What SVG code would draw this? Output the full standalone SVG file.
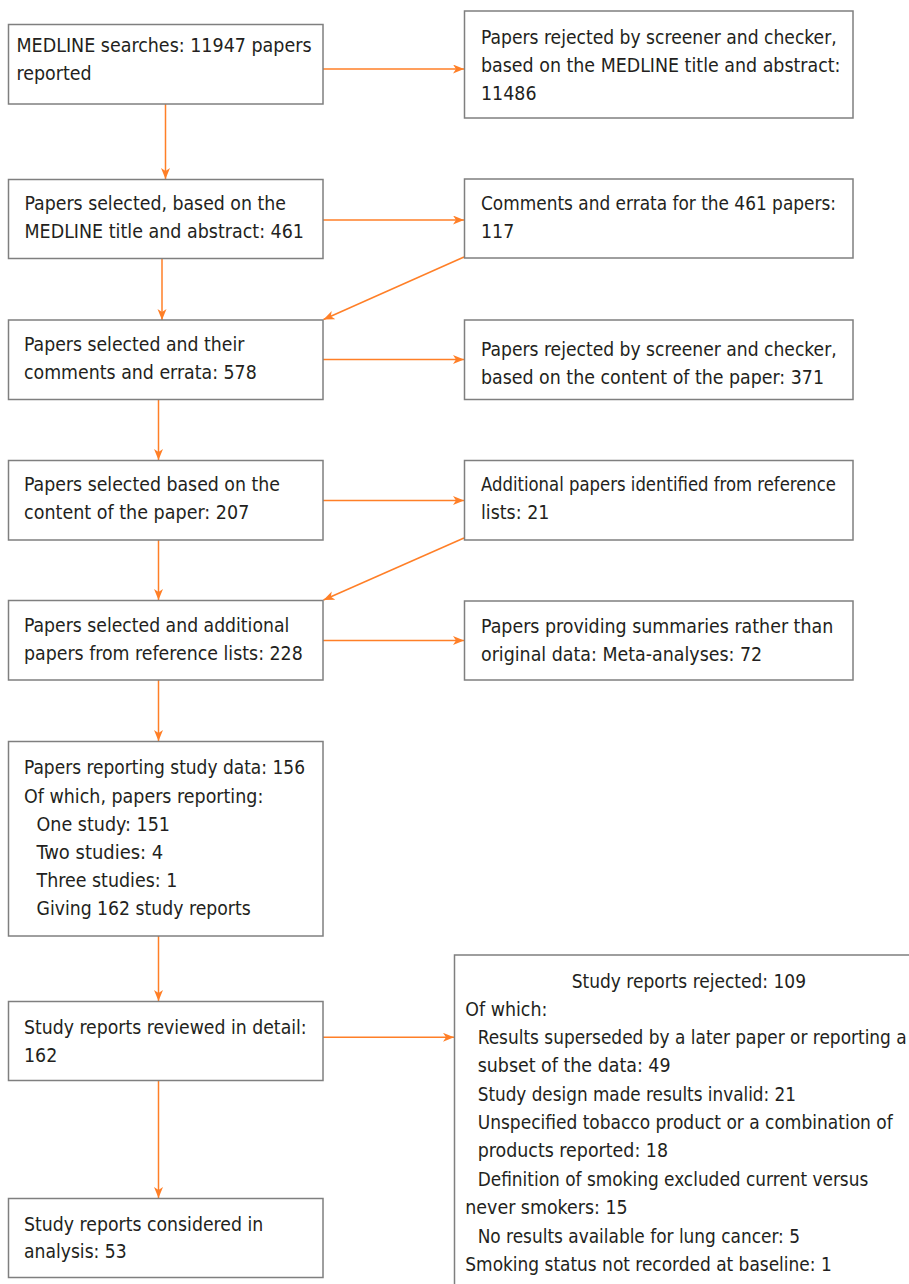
<svg xmlns="http://www.w3.org/2000/svg" width="909" height="1284" viewBox="0 0 909 1284">
<style>
.box{fill:#fff;stroke:#7f7f7f;stroke-width:1.5}
text{font-family:"DejaVu Sans Condensed","DejaVu Sans",sans-serif;font-stretch:condensed;font-size:19.4px;fill:#231f20}
.c{stroke:#ff7f27;stroke-width:1.5;fill:none;marker-end:url(#ah)}
</style>
<defs>
<marker id="ah" markerUnits="userSpaceOnUse" markerWidth="12" markerHeight="10" refX="11" refY="4.5" orient="auto">
<path d="M0,0 L11,4.5 L0,9 L3,4.5 z" fill="#ff7f27"/>
</marker>
</defs>
<rect width="909" height="1284" fill="#fff"/>
<g id="connectors">
<line class="c" x1="323" y1="69" x2="464" y2="69"/>
<line class="c" x1="165.5" y1="104" x2="165.5" y2="179"/>
<line class="c" x1="323" y1="220" x2="464" y2="220"/>
<line class="c" x1="162" y1="259" x2="162" y2="320"/>
<line class="c" x1="464" y1="257" x2="323.5" y2="319.5"/>
<line class="c" x1="323" y1="359.5" x2="464" y2="359.5"/>
<line class="c" x1="158.5" y1="399.5" x2="158.5" y2="460"/>
<line class="c" x1="323" y1="500.5" x2="464" y2="500.5"/>
<line class="c" x1="158.5" y1="540" x2="158.5" y2="600"/>
<line class="c" x1="464" y1="538" x2="323.5" y2="600"/>
<line class="c" x1="323" y1="640.5" x2="464" y2="640.5"/>
<line class="c" x1="158.5" y1="680" x2="158.5" y2="741"/>
<line class="c" x1="158.5" y1="936" x2="158.5" y2="1001"/>
<line class="c" x1="323" y1="1037.3" x2="454" y2="1037.3"/>
<line class="c" x1="158.5" y1="1081" x2="158.5" y2="1198"/>
</g>
<g id="n1"><rect class="box" x="8.5" y="24.5" width="314.5" height="79.5"/>
<text x="16.5" y="52" textLength="295" lengthAdjust="spacingAndGlyphs">MEDLINE searches: 11947 papers</text><text x="16.5" y="80">reported</text></g>
<g id="r1"><rect class="box" x="464.5" y="11" width="388.5" height="107"/>
<text x="481" y="43.5" textLength="355.7" lengthAdjust="spacingAndGlyphs">Papers rejected by screener and checker,</text><text x="481" y="71.5">based on the MEDLINE title and abstract:</text><text x="481" y="100">11486</text></g>
<g id="n2"><rect class="box" x="8.5" y="179.5" width="314.5" height="79"/>
<text x="24.5" y="209.5" textLength="261.5" lengthAdjust="spacingAndGlyphs">Papers selected, based on the</text><text x="24.5" y="237.5" textLength="279.5" lengthAdjust="spacingAndGlyphs">MEDLINE title and abstract: 461</text></g>
<g id="r2"><rect class="box" x="464.5" y="179" width="388.5" height="79"/>
<text x="481" y="209.5" textLength="355" lengthAdjust="spacingAndGlyphs">Comments and errata for the 461 papers:</text><text x="481" y="238">117</text></g>
<g id="n3"><rect class="box" x="8.5" y="320" width="314.5" height="79.5"/>
<text x="24" y="350.5" textLength="220.3" lengthAdjust="spacingAndGlyphs">Papers selected and their</text><text x="24" y="378.5" textLength="232.7" lengthAdjust="spacingAndGlyphs">comments and errata: 578</text></g>
<g id="r3"><rect class="box" x="464.5" y="320" width="388.5" height="79.5"/>
<text x="481" y="356" textLength="355.7" lengthAdjust="spacingAndGlyphs">Papers rejected by screener and checker,</text><text x="481" y="384" textLength="343" lengthAdjust="spacingAndGlyphs">based on the content of the paper: 371</text></g>
<g id="n4"><rect class="box" x="8.5" y="460.5" width="314.5" height="79.5"/>
<text x="24" y="491" textLength="256" lengthAdjust="spacingAndGlyphs">Papers selected based on the</text><text x="24" y="519.3" textLength="225.3" lengthAdjust="spacingAndGlyphs">content of the paper: 207</text></g>
<g id="r4"><rect class="box" x="464.5" y="460.5" width="388.5" height="79.5"/>
<text x="481" y="491" textLength="355" lengthAdjust="spacingAndGlyphs">Additional papers identified from reference</text><text x="481" y="519.3">lists: 21</text></g>
<g id="n5"><rect class="box" x="8.5" y="600.5" width="314.5" height="79.5"/>
<text x="24" y="631.7" textLength="265.3" lengthAdjust="spacingAndGlyphs">Papers selected and additional</text><text x="24" y="659.5" textLength="278.7" lengthAdjust="spacingAndGlyphs">papers from reference lists: 228</text></g>
<g id="r5"><rect class="box" x="464.5" y="601" width="388.5" height="79"/>
<text x="481" y="632.7">Papers providing summaries rather than</text><text x="481" y="660.7">original data: Meta-analyses: 72</text></g>
<g id="n6"><rect class="box" x="8.5" y="741.5" width="314.5" height="194.5"/>
<text x="24" y="774" textLength="281" lengthAdjust="spacingAndGlyphs">Papers reporting study data: 156</text>
<text x="24" y="802.5" textLength="239.3" lengthAdjust="spacingAndGlyphs">Of which, papers reporting:</text>
<text x="36.5" y="831" textLength="133.5" lengthAdjust="spacingAndGlyphs">One study: 151</text>
<text x="36.5" y="858.7" textLength="126.8" lengthAdjust="spacingAndGlyphs">Two studies: 4</text>
<text x="36.5" y="886.7" textLength="140.8" lengthAdjust="spacingAndGlyphs">Three studies: 1</text>
<text x="36.5" y="914.7" textLength="214.2" lengthAdjust="spacingAndGlyphs">Giving 162 study reports</text></g>
<g id="n7"><rect class="box" x="8.5" y="1001.5" width="314.5" height="79"/>
<text x="24" y="1034" textLength="282.7" lengthAdjust="spacingAndGlyphs">Study reports reviewed in detail:</text><text x="24" y="1062">162</text></g>
<g id="n8"><rect class="box" x="8.5" y="1198.5" width="314.5" height="79"/>
<text x="24" y="1230.7" textLength="239.3" lengthAdjust="spacingAndGlyphs">Study reports considered in</text><text x="24" y="1258.3" textLength="102.7" lengthAdjust="spacingAndGlyphs">analysis: 53</text></g>
<g id="r6"><rect class="box" x="454.5" y="955" width="470" height="340"/>
<text x="571.7" y="987.7" textLength="234.3" lengthAdjust="spacingAndGlyphs">Study reports rejected: 109</text>
<text x="465.3" y="1016">Of which:</text>
<text x="477.7" y="1044.3" textLength="429" lengthAdjust="spacingAndGlyphs">Results superseded by a later paper or reporting a</text>
<text x="477.7" y="1072.3">subset of the data: 49</text>
<text x="477.7" y="1101" textLength="318.3" lengthAdjust="spacingAndGlyphs">Study design made results invalid: 21</text>
<text x="477.7" y="1129" textLength="415" lengthAdjust="spacingAndGlyphs">Unspecified tobacco product or a combination of</text>
<text x="477.7" y="1157.3">products reported: 18</text>
<text x="477.7" y="1186" textLength="390.6" lengthAdjust="spacingAndGlyphs">Definition of smoking excluded current versus</text>
<text x="465.3" y="1214.3">never smokers: 15</text>
<text x="477.7" y="1242.7" textLength="322.3" lengthAdjust="spacingAndGlyphs">No results available for lung cancer: 5</text>
<text x="465.3" y="1271" textLength="366.4" lengthAdjust="spacingAndGlyphs">Smoking status not recorded at baseline: 1</text></g>
</svg>
